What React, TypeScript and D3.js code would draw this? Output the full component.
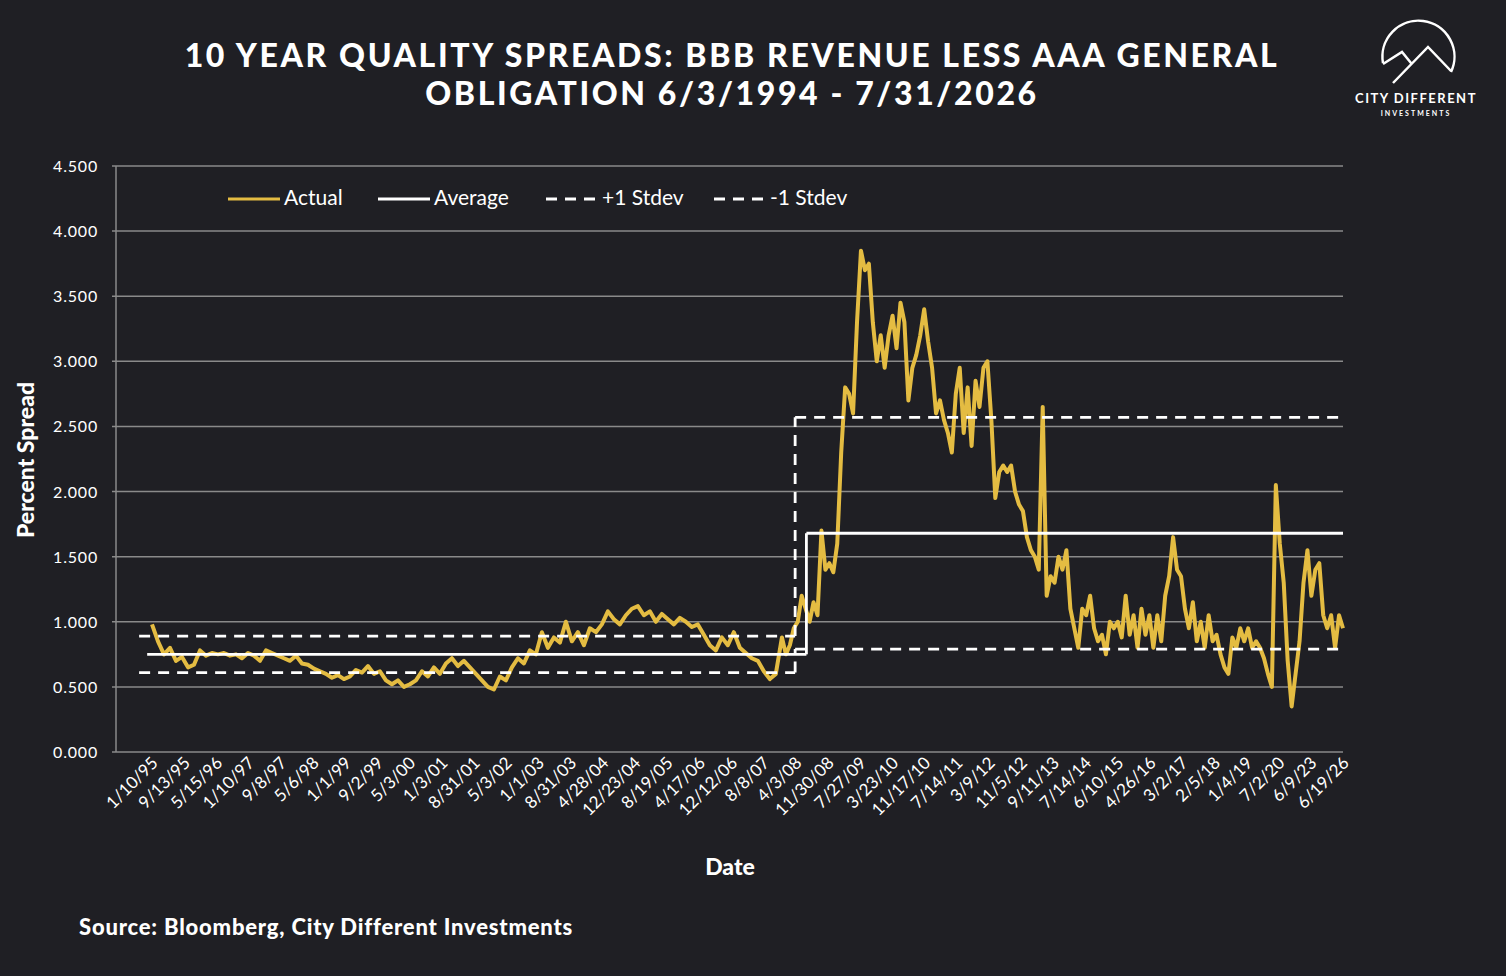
import React, { useEffect, useRef } from "react";
import * as d3 from "d3";

const tickLabels = ["1/10/95","9/13/95","5/15/96","1/10/97","9/8/97","5/6/98","1/1/99","9/2/99","5/3/00","1/3/01","8/31/01","5/3/02","1/1/03","8/31/03","4/28/04","12/23/04","8/19/05","4/17/06","12/12/06","8/8/07","4/3/08","11/30/08","7/27/09","3/23/10","11/17/10","7/14/11","3/9/12","11/5/12","9/11/13","7/14/14","6/10/15","4/26/16","3/2/17","2/5/18","1/4/19","7/2/20","6/9/23","6/19/26"];

// spread series, first span (label 0 -> 19.38) then second span (19.57 -> 37)
const spreadEarly = [0.98,0.85,0.75,0.80,0.70,0.73,0.65,0.67,0.78,0.74,0.76,0.75,0.76,0.74,0.75,0.72,0.76,0.74,0.70,0.78,0.76,0.74,0.72,0.70,0.74,0.68,0.67,0.64,0.62,0.60,0.57,0.59,0.56,0.58,0.63,0.61,0.66,0.60,0.62,0.55,0.52,0.55,0.50,0.52,0.55,0.62,0.58,0.65,0.60,0.68,0.72,0.66,0.70,0.65,0.60,0.55,0.50,0.48,0.58,0.55,0.65,0.72,0.68,0.78,0.75,0.92,0.80,0.88,0.84,1.00,0.85,0.92,0.82,0.95,0.92,0.98,1.08,1.02,0.98,1.05,1.10,1.12,1.05,1.08,1.00,1.06,1.02,0.98,1.03,1.00,0.96,0.98,0.90,0.82,0.78,0.88,0.82,0.92,0.80,0.76,0.72,0.70,0.62,0.56,0.60];
const spreadLate = [0.88,0.75,0.82,0.95,1.00,1.20,1.10,1.00,1.15,1.05,1.70,1.40,1.45,1.38,1.60,2.30,2.80,2.75,2.60,3.30,3.85,3.70,3.75,3.30,3.00,3.20,2.95,3.20,3.35,3.10,3.45,3.30,2.70,2.95,3.05,3.20,3.40,3.15,2.95,2.60,2.70,2.55,2.45,2.30,2.75,2.95,2.45,2.80,2.35,2.85,2.65,2.95,3.00,2.55,1.95,2.15,2.20,2.15,2.20,2.00,1.90,1.85,1.65,1.55,1.50,1.40,2.65,1.20,1.35,1.30,1.50,1.40,1.55,1.10,0.95,0.80,1.10,1.05,1.20,0.95,0.85,0.90,0.75,1.00,0.95,1.00,0.88,1.20,0.90,1.05,0.80,1.10,0.90,1.05,0.80,1.05,0.85,1.20,1.35,1.65,1.40,1.35,1.10,0.95,1.15,0.85,1.00,0.80,1.05,0.85,0.90,0.75,0.65,0.60,0.88,0.80,0.95,0.85,0.95,0.80,0.85,0.80,0.72,0.60,0.50,2.05,1.60,1.30,0.70,0.35,0.60,0.85,1.30,1.55,1.20,1.40,1.45,1.05,0.95,1.05,0.80,1.05,0.95];
const spanEarly = [0, 19.38];
const spanLate = [19.57, 37];

// regime statistics: [start label, end label, level]
const avgSteps = [[-0.15, 20.33, 0.75], [20.33, 37, 1.68]];
const plusSteps = [[-0.4, 19.98, 0.89], [19.98, 37, 2.57]];
const minusSteps = [[-0.4, 19.98, 0.61], [19.98, 37, 0.79]];
const yTicks = [0, 0.5, 1, 1.5, 2, 2.5, 3, 3.5, 4, 4.5];

const FONT = "Lato, 'Open Sans', sans-serif";
const GOLD = "#e4bc42";

const App = () => {
  const svgRef = useRef(null);

  useEffect(() => {
    const svg = d3.select(svgRef.current);
    svg.selectAll("*").remove();
    const W = 1506, H = 976;
    svg.append("rect").attr("width", W).attr("height", H).attr("fill", "#1f1f24");

    const x = d3.scaleLinear().domain([0, 37]).range([152, 1343]);
    const y = d3.scaleLinear().domain([0, 4.5]).range([752, 166]);

    // grid
    svg.append("g").selectAll("line").data(yTicks).join("line")
      .attr("x1", 112).attr("x2", 1343)
      .attr("y1", (d) => y(d)).attr("y2", (d) => y(d))
      .attr("stroke", "#8a8a8a").attr("stroke-width", 1.5);
    svg.append("line").attr("x1", 116).attr("x2", 116).attr("y1", y(4.5)).attr("y2", y(0))
      .attr("stroke", "#8a8a8a").attr("stroke-width", 1.5);
    svg.append("g").selectAll("text").data(yTicks).join("text")
      .attr("x", 98).attr("y", (d) => y(d) + 6).attr("text-anchor", "end")
      .attr("fill", "#fff").attr("font-family", FONT).attr("font-size", 16)
      .attr("letter-spacing", 0.8)
      .text((d) => d3.format(".3f")(d));

    // x labels
    svg.append("g").selectAll("text").data(tickLabels).join("text")
      .attr("transform", (d, i) => `translate(${x(i) + 7},${764}) rotate(-45)`)
      .attr("text-anchor", "end").attr("fill", "#fff")
      .attr("font-family", FONT).attr("font-size", 17).text((d) => d);

    const stepLine = (steps, dash, vx) => {
      const g = svg.append("g");
      g.selectAll("line").data(steps).join("line")
        .attr("x1", (d) => x(d[0])).attr("x2", (d) => x(d[1]))
        .attr("y1", (d) => y(d[2])).attr("y2", (d) => y(d[2]))
        .attr("stroke", "#fff").attr("stroke-width", 2.8)
        .attr("stroke-dasharray", dash);
      g.append("line").attr("x1", x(vx)).attr("x2", x(vx))
        .attr("y1", y(steps[0][2])).attr("y2", y(steps[1][2]))
        .attr("stroke", "#fff").attr("stroke-width", 2.8).attr("stroke-dasharray", dash);
    };

    const line = d3.line().x((d) => x(d[0])).y((d) => y(d[1]));
    const toPts = (arr, span) =>
      arr.map((v, i) => [span[0] + ((span[1] - span[0]) * i) / (arr.length - 1), v]);
    const pts = [...toPts(spreadEarly, spanEarly), ...toPts(spreadLate, spanLate)];
    svg.append("path").datum(pts).attr("d", line).attr("fill", "none")
      .attr("stroke", GOLD).attr("stroke-width", 4).attr("stroke-linejoin", "round");

    stepLine(avgSteps, null, 20.33);
    stepLine(plusSteps, "11,8", 19.98);
    stepLine(minusSteps, "11,8", 19.98);

    // legend
    const legend = [
      { label: "Actual", color: GOLD, dash: null, x0: 228 },
      { label: "Average", color: "#fff", dash: null, x0: 378 },
      { label: "+1 Stdev", color: "#fff", dash: "11,8", x0: 546 },
      { label: "-1 Stdev", color: "#fff", dash: "11,8", x0: 714 },
    ];
    const lg = svg.append("g").selectAll("g").data(legend).join("g");
    lg.append("line").attr("x1", (d) => d.x0).attr("x2", (d) => d.x0 + 52)
      .attr("y1", 199).attr("y2", 199).attr("stroke", (d) => d.color)
      .attr("stroke-width", 3).attr("stroke-dasharray", (d) => d.dash);
    lg.append("text").attr("x", (d) => d.x0 + 56).attr("y", 205)
      .attr("fill", "#fff").attr("font-family", FONT).attr("font-size", 21)
      .text((d) => d.label);

    // titles
    const t = svg.append("text").attr("text-anchor", "middle").attr("fill", "#fff")
      .attr("font-family", FONT).attr("font-weight", 900).attr("font-size", 32)
      .attr("letter-spacing", 2.6);
    t.append("tspan").attr("x", 732).attr("y", 67).text("10 YEAR QUALITY SPREADS: BBB REVENUE LESS AAA GENERAL");
    t.append("tspan").attr("x", 732).attr("y", 105).text("OBLIGATION 6/3/1994 - 7/31/2026");

    svg.append("text").attr("transform", "translate(34,460) rotate(-90)")
      .attr("text-anchor", "middle").attr("fill", "#fff").attr("font-family", FONT)
      .attr("font-weight", 900).attr("font-size", 23).text("Percent Spread");
    svg.append("text").attr("x", 730).attr("y", 875).attr("text-anchor", "middle")
      .attr("fill", "#fff").attr("font-family", FONT).attr("font-weight", 900)
      .attr("font-size", 23).text("Date");
    svg.append("text").attr("x", 79).attr("y", 935).attr("fill", "#fff")
      .attr("font-family", FONT).attr("font-weight", 900).attr("font-size", 22)
      .attr("letter-spacing", 0.8)
      .text("Source: Bloomberg, City Different Investments");

    // logo
    const logo = svg.append("g").attr("fill", "none").attr("stroke", "#fff").attr("stroke-width", 2.5);
    logo.append("path").attr("d", "M1383,63 A36,36 0 1 1 1451,72");
    logo.append("path").attr("d", "M1383,64 L1402,52 L1411,63 M1393,83 L1428,47 L1451,71");
    svg.append("text").attr("x", 1416).attr("y", 103).attr("text-anchor", "middle")
      .attr("fill", "#fff").attr("font-family", FONT).attr("font-weight", 700)
      .attr("font-size", 13).attr("letter-spacing", 1.5).text("CITY DIFFERENT");
    svg.append("text").attr("x", 1416).attr("y", 116).attr("text-anchor", "middle")
      .attr("fill", "#fff").attr("font-family", FONT).attr("font-weight", 700)
      .attr("font-size", 7).attr("letter-spacing", 2).text("INVESTMENTS");
  }, []);

  return <svg ref={svgRef} width={1506} height={976} style={{ display: "block", position: "absolute", left: 0, top: 0 }} />;
};

export default App;
